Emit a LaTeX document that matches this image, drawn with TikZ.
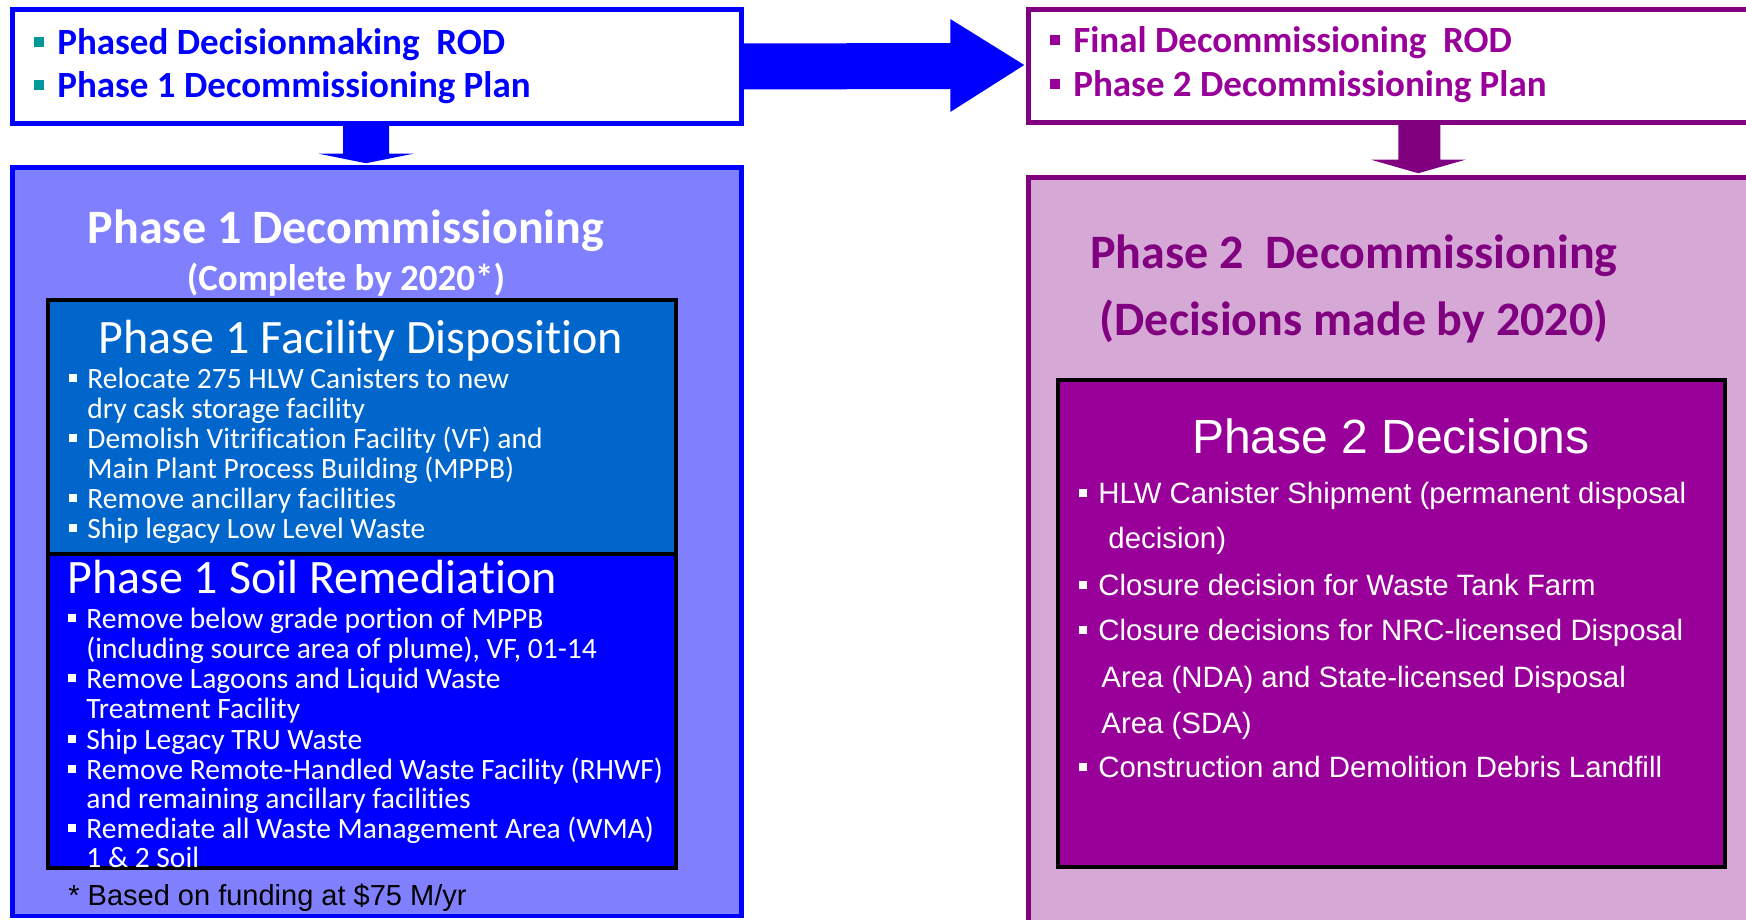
\documentclass[tikz,border=0pt]{standalone}
\usepackage{fontspec}
\setmainfont{Carlito}[Ligatures=NoCommon]
\newfontfamily\arialfont{Liberation Sans}
\usetikzlibrary{calc}
\usetikzlibrary{fit}

\definecolor{rodblue}{HTML}{0000FF}
\definecolor{rodteal}{HTML}{009999}
\definecolor{phaseonefill}{HTML}{8080FF}
\definecolor{facfill}{HTML}{0066CC}
\definecolor{rodpurple}{HTML}{800080}
\definecolor{textpurple}{HTML}{990099}
\definecolor{phasetwofill}{HTML}{D5A8D5}
\definecolor{decfill}{HTML}{990099}

% square bullet: colour, width of the bullet column
\newcommand{\blt}[2]{\makebox[#2][l]{\textcolor{#1}{\rule[0.22em]{0.27em}{0.27em}}}}

\tikzset{
  box/.style={draw, line width=2.25pt, inner sep=0pt},
  innerbox/.style={draw=black, line width=2pt, inner sep=0pt},
  txt/.style={anchor=base west, inner sep=0pt},
  rodtext/.style={txt, font=\fontsize{18.5}{20}\selectfont\bfseries},
  bigtitle/.style={anchor=base, inner sep=0pt, font=\fontsize{24}{28}\selectfont\bfseries},
  subtitle/.style={inner sep=0pt, text=white, font=\fontsize{24}{28}\selectfont},
  item/.style={txt, text=white, font=\fontsize{14.75}{15}\selectfont},
  decitem/.style={txt, text=white, font=\arialfont\fontsize{14.7}{16}\selectfont}
}

\begin{document}
\begin{tikzpicture}[x=0.5pt, y=-0.5pt]
  \useasboundingbox (0,0) rectangle (1746,920);
  \fill[white] (0,0) rectangle (1746,920);

  % boxes
  \node[box, draw=rodblue, fill=white, fit={(12.5,9.5) (741.5,123.5)}] (rod1) {};
  \node[box, draw=rodpurple, fill=white, fit={(1028.5,9.5) (1770,122.5)}] (rod2) {};
  \node[box, draw=rodblue, fill=phaseonefill, fit={(12.5,167.5) (741.5,916)}] (ph1) {};
  \node[box, draw=rodpurple, fill=phasetwofill, fit={(1028.5,177.5) (1770,940)}] (ph2) {};
  \node[innerbox, fill=facfill, fit={(47.5,300) (675.5,554)}] (fac) {};
  \node[innerbox, fill=rodblue, fit={(47.5,554) (675.5,868)}] (soil) {};
  \node[innerbox, fill=decfill, fit={(1058,380) (1725,866.5)}] (dec) {};

  % block arrows
  \fill[rodblue] ($(rod1.east)+(0,-23)$) -- ($(rod2.west)+(-76,-23)$) -- ($(rod2.west)+(-76,-47)$)
    -- ($(rod2.west)+(-2,-1)$) -- ($(rod2.west)+(-76,46)$) -- ($(rod2.west)+(-76,23)$)
    -- ($(rod1.east)+(0,23)$) -- cycle;
  \fill[rodblue] ($(rod1.south)+(-34,0)$) -- ($(rod1.south)+(-34,28)$) -- ($(rod1.south)+(-58,28)$)
    -- ($(ph1.north)+(-11,-2)$) -- ($(rod1.south)+(36,28)$) -- ($(rod1.south)+(12,28)$)
    -- ($(rod1.south)+(12,0)$) -- cycle;
  \fill[rodpurple] ($(rod2.south)+(-1,0)$) -- ($(rod2.south)+(-1,35)$) -- ($(rod2.south)+(-28,35)$)
    -- ($(ph2.north)+(19,-2)$) -- ($(rod2.south)+(66,35)$) -- ($(rod2.south)+(41,35)$)
    -- ($(rod2.south)+(41,0)$) -- cycle;

  % decision documents
  \node[rodtext, text=rodblue] (rod1a) at (34,55) {\blt{rodteal}{11.5pt}Phased Decisionmaking\ \ ROD};
  \node[rodtext, text=rodblue] (rod1b) at (34,98) {\blt{rodteal}{11.5pt}Phase 1 Decommissioning Plan};
  \node[rodtext, text=textpurple] (rod2a) at (1050,53) {\blt{textpurple}{11.5pt}Final Decommissioning\ \ ROD};
  \node[rodtext, text=textpurple] (rod2b) at (1050,97) {\blt{textpurple}{11.5pt}Phase 2 Decommissioning Plan};

  % phase 1
  \node[bigtitle, text=white] (ph1title) at (346,243) {Phase 1 Decommissioning};
  \node[bigtitle, text=white, font=\fontsize{18.5}{20}\selectfont\bfseries] (ph1sub) at (346,290) {(Complete by 2020*)};

  \node[subtitle, anchor=base] (factitle) at (361,353) {Phase 1 Facility Disposition};
  \node[item] (fac1) at (69,388) {\blt{white}{9pt}Relocate 275 HLW Canisters to new};
  \node[item] (fac2) at (87,418) {dry cask storage facility};
  \node[item] (fac3) at (69,448) {\blt{white}{9pt}Demolish Vitrification Facility (VF) and};
  \node[item] (fac4) at (87,478) {Main Plant Process Building (MPPB)};
  \node[item] (fac5) at (69,508) {\blt{white}{9pt}Remove ancillary facilities};
  \node[item] (fac6) at (69,538) {\blt{white}{9pt}Ship legacy Low Level Waste};

  \node[subtitle, anchor=base west] (soiltitle) at (67,593) {Phase 1 Soil Remediation};
  \node[item] (soil1) at (68,628) {\blt{white}{9pt}Remove below grade portion of MPPB};
  \node[item] (soil2) at (86,658) {(including source area of plume), VF, 01-14};
  \node[item] (soil3) at (68,688) {\blt{white}{9pt}Remove Lagoons and Liquid Waste};
  \node[item] (soil4) at (86,718) {Treatment Facility};
  \node[item] (soil5) at (68,749) {\blt{white}{9pt}Ship Legacy TRU Waste};
  \node[item] (soil6) at (68,779) {\blt{white}{9pt}Remove Remote-Handled Waste Facility (RHWF)};
  \node[item] (soil7) at (86,808) {and remaining ancillary facilities};
  \node[item] (soil8) at (68,838) {\blt{white}{9pt}Remediate all Waste Management Area (WMA)};
  \node[item] (soil9) at (86,867) {1 \& 2 Soil};

  \node[txt, font=\arialfont\fontsize{14.5}{16}\selectfont] (note) at (68,905) {* Based on funding at \$75 M/yr};

  % phase 2
  \node[bigtitle, text=rodpurple] (ph2title) at (1354,268) {Phase 2\ \ Decommissioning};
  \node[bigtitle, text=rodpurple] (ph2sub) at (1354,335) {(Decisions made by 2020)};

  \node[subtitle, anchor=base, font=\arialfont\fontsize{24}{28}\selectfont] (dectitle) at (1391,453) {Phase 2 Decisions};
  \node[decitem] (dec1) at (1079,503) {\blt{white}{9.5pt}HLW Canister Shipment (permanent disposal};
  \node[decitem] (dec2) at (1108,548) {decision)};
  \node[decitem] (dec3) at (1079,595) {\blt{white}{9.5pt}Closure decision for Waste Tank Farm};
  \node[decitem] (dec4) at (1079,640) {\blt{white}{9.5pt}Closure decisions for NRC-licensed Disposal};
  \node[decitem] (dec5) at (1101,687) {Area (NDA) and State-licensed Disposal};
  \node[decitem] (dec6) at (1101,733) {Area (SDA)};
  \node[decitem] (dec7) at (1079,777) {\blt{white}{9.5pt}Construction and Demolition Debris Landfill};
\end{tikzpicture}
\end{document}
